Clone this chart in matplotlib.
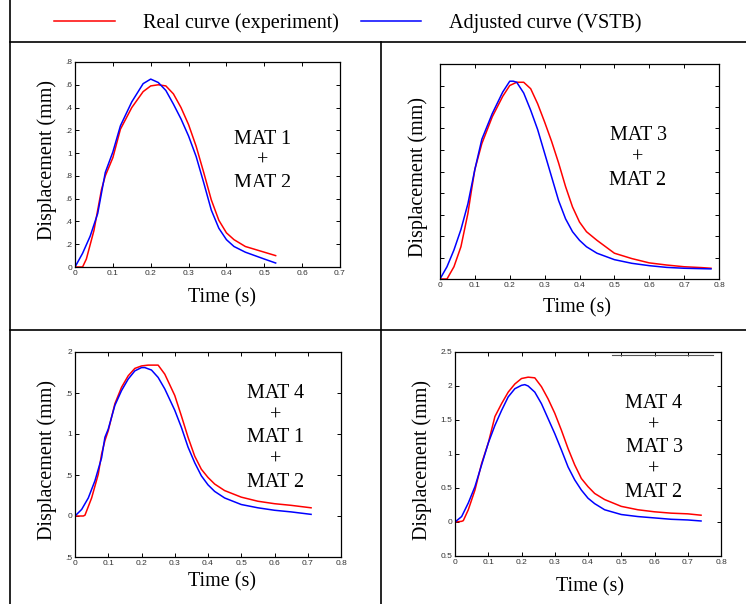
import numpy as np
import matplotlib
matplotlib.use("Agg")
import matplotlib.pyplot as plt
from matplotlib.lines import Line2D
from matplotlib.transforms import Bbox, TransformedBbox

# ---- data ----
# panel 1: MAT 1 + MAT 2
t1_real = [0, 0.02, 0.03, 0.05, 0.07, 0.08, 0.10, 0.12, 0.15, 0.18, 0.20, 0.22, 0.24, 0.26,
           0.28, 0.30, 0.32, 0.34, 0.36, 0.38, 0.40, 0.42, 0.45, 0.50, 0.53]
d1_real = [0, 0, 0.07, 0.32, 0.68, 0.80, 0.96, 1.21, 1.40, 1.54, 1.59, 1.60, 1.59, 1.52,
           1.40, 1.25, 1.06, 0.83, 0.59, 0.41, 0.30, 0.24, 0.18, 0.13, 0.10]
t1_adj = [0, 0.02, 0.04, 0.06, 0.08, 0.10, 0.12, 0.15, 0.18, 0.20, 0.22, 0.24, 0.26, 0.28,
          0.30, 0.32, 0.34, 0.36, 0.38, 0.40, 0.42, 0.45, 0.50, 0.53]
d1_adj = [0, 0.12, 0.27, 0.47, 0.83, 1.01, 1.24, 1.45, 1.61, 1.65, 1.62, 1.55, 1.43, 1.30,
          1.15, 0.97, 0.74, 0.50, 0.34, 0.24, 0.18, 0.13, 0.07, 0.035]

# panel 2: MAT 3 + MAT 2
t2_real = [0, 0.02, 0.04, 0.06, 0.08, 0.09, 0.10, 0.12, 0.15, 0.18, 0.20, 0.22, 0.24, 0.26,
           0.28, 0.30, 0.32, 0.34, 0.36, 0.38, 0.40, 0.42, 0.45, 0.50, 0.55, 0.60, 0.65,
           0.70, 0.75, 0.777]
d2_real = [0, 0, 0.114, 0.30, 0.61, 0.82, 1.02, 1.26, 1.51, 1.70, 1.80, 1.83, 1.83, 1.77,
           1.63, 1.46, 1.28, 1.08, 0.86, 0.67, 0.53, 0.44, 0.36, 0.24, 0.19, 0.15, 0.13,
           0.114, 0.106, 0.10]
t2_adj = [0, 0.02, 0.04, 0.06, 0.08, 0.10, 0.12, 0.15, 0.18, 0.20, 0.21, 0.22, 0.24, 0.26,
          0.28, 0.30, 0.32, 0.34, 0.36, 0.38, 0.40, 0.42, 0.45, 0.50, 0.55, 0.60, 0.65,
          0.70, 0.777]
d2_adj = [0, 0.114, 0.27, 0.46, 0.70, 1.02, 1.30, 1.54, 1.74, 1.84, 1.84, 1.83, 1.73, 1.57,
          1.39, 1.17, 0.95, 0.73, 0.56, 0.44, 0.36, 0.30, 0.24, 0.18, 0.146, 0.124, 0.108,
          0.10, 0.094]

# panel 3: MAT 4 + MAT 1 + MAT 2
t3_real = [0, 0.025, 0.03, 0.05, 0.07, 0.08, 0.09, 0.10, 0.12, 0.14, 0.16, 0.18, 0.20, 0.22,
           0.25, 0.27, 0.30, 0.32, 0.34, 0.36, 0.38, 0.40, 0.42, 0.45, 0.50, 0.55, 0.60,
           0.65, 0.71]
d3_real = [0, 0, 0.01, 0.22, 0.51, 0.755, 0.92, 1.04, 1.37, 1.57, 1.71, 1.80, 1.83, 1.84,
           1.84, 1.73, 1.47, 1.22, 0.96, 0.73, 0.57, 0.47, 0.39, 0.31, 0.23, 0.18, 0.15,
           0.13, 0.10]
t3_adj = [0, 0.02, 0.04, 0.06, 0.08, 0.09, 0.10, 0.12, 0.14, 0.16, 0.18, 0.20, 0.21, 0.23,
          0.25, 0.27, 0.30, 0.32, 0.34, 0.36, 0.38, 0.40, 0.42, 0.45, 0.50, 0.55, 0.60,
          0.65, 0.71]
d3_adj = [0, 0.08, 0.22, 0.43, 0.71, 0.96, 1.06, 1.35, 1.53, 1.67, 1.77, 1.81, 1.81, 1.78,
          1.69, 1.55, 1.29, 1.08, 0.84, 0.65, 0.49, 0.38, 0.30, 0.22, 0.14, 0.10, 0.07,
          0.05, 0.02]

# panel 4: MAT 4 + MAT 3 + MAT 2
t4_real = [0, 0.02, 0.025, 0.04, 0.06, 0.08, 0.10, 0.12, 0.14, 0.16, 0.18, 0.20, 0.22, 0.24,
           0.26, 0.28, 0.30, 0.32, 0.34, 0.36, 0.38, 0.40, 0.42, 0.45, 0.50, 0.55, 0.60,
           0.65, 0.70, 0.74]
d4_real = [0, 0.01, 0.02, 0.18, 0.47, 0.86, 1.16, 1.55, 1.74, 1.91, 2.03, 2.11, 2.13, 2.12,
           1.99, 1.81, 1.60, 1.35, 1.08, 0.84, 0.64, 0.52, 0.42, 0.33, 0.23, 0.18, 0.15,
           0.13, 0.12, 0.10]
t4_adj = [0, 0.02, 0.04, 0.06, 0.08, 0.10, 0.12, 0.14, 0.16, 0.18, 0.20, 0.21, 0.22, 0.24,
          0.26, 0.28, 0.30, 0.32, 0.34, 0.36, 0.38, 0.40, 0.42, 0.45, 0.50, 0.55, 0.60,
          0.65, 0.70, 0.74]
d4_adj = [0, 0.08, 0.28, 0.52, 0.84, 1.16, 1.42, 1.64, 1.84, 1.96, 2.01, 2.02, 2.00, 1.91,
          1.74, 1.52, 1.30, 1.06, 0.81, 0.62, 0.47, 0.35, 0.27, 0.18, 0.11, 0.08, 0.06,
          0.04, 0.03, 0.015]

# tick labels as printed (clipped in the original)
x1_ticks = ["0", "0.1", "0.2", "0.3", "0.4", "0.5", "0.6", "0.7"]
x_ticks = ["0", "0.1", "0.2", "0.3", "0.4", "0.5", "0.6", "0.7", "0.8"]
y1_ticks = ["0", ".2", ".4", ".6", ".8", "1", ".2", ".4", ".6", ".8"]
y3_ticks = [".5", "0", ".5", "1", ".5", "2"]
y4_ticks = ["0.5", "0", "0.5", "1", "1.5", "2", "2.5"]

mat_labels = ["MAT 1\n+\nMAT 2", "MAT 3\n+\nMAT 2",
              "MAT 4\n+\nMAT 1\n+\nMAT 2", "MAT 4\n+\nMAT 3\n+\nMAT 2"]

W, H = 746, 604
SERIF = "Liberation Serif"
SANS = "Liberation Sans"

fig = plt.figure(figsize=(W / 100, H / 100), dpi=100)


def fx(x):
    return x / W


def fy(y):
    return 1 - y / H


def make_axes(l, t, r, b):
    ax = fig.add_axes([fx(l), fy(b), fx(r - l), (b - t) / H])
    ax.tick_params(direction="in", top=True, right=True, length=3, width=0.7,
                   labelsize=6, labelcolor="#333333", pad=2)
    for s in ax.spines.values():
        s.set_linewidth(0.9)
    return ax


def style_ticks(ax):
    for lab in ax.get_xticklabels() + ax.get_yticklabels():
        lab.set_family(SANS)


# panel 1
ax1 = make_axes(75, 62, 340, 267)
real_line, = ax1.plot(t1_real, d1_real, color="red", lw=1.1)
adj_line, = ax1.plot(t1_adj, d1_adj, color="blue", lw=1.1)
ax1.set_xlim(0, 0.7)
ax1.set_ylim(0, 1.8)
ax1.set_xticks(np.arange(len(x1_ticks)) * 0.1, x1_ticks)
ax1.set_yticks(np.arange(len(y1_ticks)) * 0.2, y1_ticks)
style_ticks(ax1)

# panel 2
ax2 = make_axes(440, 64, 719, 279)
ax2.plot(t2_real, d2_real, color="red", lw=1.1)
ax2.plot(t2_adj, d2_adj, color="blue", lw=1.1)
ax2.set_xlim(0, 0.8)
ax2.set_ylim(0, 2)
ax2.set_xticks(np.arange(len(x_ticks)) * 0.1, x_ticks)
ax2.set_yticks(np.arange(11) * 0.2, [""] * 11)
style_ticks(ax2)

# panel 3
ax3 = make_axes(75, 352, 341, 557)
ax3.plot(t3_real, d3_real, color="red", lw=1.1)
ax3.plot(t3_adj, d3_adj, color="blue", lw=1.1)
ax3.set_xlim(0, 0.8)
ax3.set_ylim(-0.5, 2)
ax3.set_xticks(np.arange(len(x_ticks)) * 0.1, x_ticks)
ax3.set_yticks(-0.5 + np.arange(len(y3_ticks)) * 0.5, y3_ticks)
style_ticks(ax3)

# panel 4
ax4 = make_axes(455, 352, 721, 556)
ax4.plot(t4_real, d4_real, color="red", lw=1.1)
ax4.plot(t4_adj, d4_adj, color="blue", lw=1.1)
ax4.set_xlim(0, 0.8)
ax4.set_ylim(-0.5, 2.5)
ax4.set_xticks(np.arange(len(x_ticks)) * 0.1, x_ticks)
ax4.set_yticks(-0.5 + np.arange(len(y4_ticks)) * 0.5, y4_ticks)
style_ticks(ax4)
# stray grey line under the top border in the original scan
ax4.axhline(2.45, xmin=0.59, xmax=0.97, color="#555555", lw=0.8)

# axis labels, placed in figure pixels
label_pos = [((222, 298), (47, 160)), ((577, 308), (418, 177)),
             ((222, 582), (47, 460)), ((590, 587), (422, 460))]
for (xl, yl) in label_pos:
    fig.text(fx(xl[0]), fy(xl[1]), "Time (s)", ha="center", va="center",
             family=SERIF, fontsize=14.5)
    fig.text(fx(yl[0]), fy(yl[1]), "Displacement (mm)", ha="center", va="center",
             rotation=90, family=SERIF, fontsize=14.5)

# material labels
mat_pos = [(263, 161.5), (638, 158), (276, 438), (654, 448)]
for i, (txt, (mx, my)) in enumerate(zip(mat_labels, mat_pos)):
    t = fig.text(fx(mx), fy(my), txt, ha="center", va="center", family=SERIF,
                 fontsize=14.5, linespacing=1.24)
    if i == 0:
        # bottom of the last line is cut off in the original
        t.set_clip_box(TransformedBbox(Bbox([[0, fy(186.5)], [1, 1]]), fig.transFigure))
        t.set_clip_on(True)

# table borders
border = dict(color="black", lw=1.2)
fig.add_artist(Line2D([fx(10), fx(10)], [0, 1], **border))
fig.add_artist(Line2D([fx(10), 1], [fy(42), fy(42)], **border))
fig.add_artist(Line2D([fx(10), 1], [fy(330), fy(330)], **border))
fig.add_artist(Line2D([fx(381), fx(381)], [0, fy(42)], **border))

# legend row
fig.legend([real_line, adj_line], ["Real curve (experiment)", "Adjusted curve (VSTB)"],
           loc="center", bbox_to_anchor=(fx(348), fy(23)), ncol=2, frameon=False,
           prop={"family": SERIF, "size": 14.5}, handlelength=3.0, handletextpad=1.4,
           columnspacing=1.1)

fig.savefig("out.png", dpi=100)
